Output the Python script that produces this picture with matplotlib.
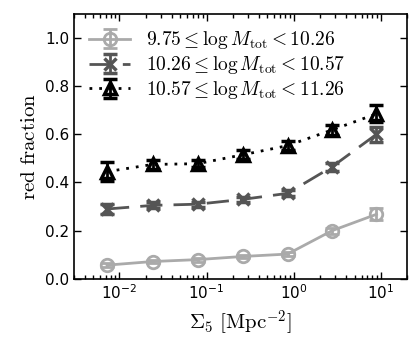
import matplotlib
matplotlib.use('Agg')
import matplotlib.pyplot as plt

plt.rcParams['mathtext.fontset'] = 'cm'
plt.rcParams['xtick.direction'] = 'in'
plt.rcParams['ytick.direction'] = 'in'
plt.rcParams['xtick.top'] = True
plt.rcParams['ytick.right'] = True

sigma5 = [0.0072, 0.024, 0.079, 0.26, 0.85, 2.75, 8.9]

low_frac = [0.057, 0.072, 0.080, 0.093, 0.103, 0.200, 0.268]
low_err = [0.008, 0.008, 0.008, 0.008, 0.010, 0.012, 0.025]
mid_frac = [0.290, 0.305, 0.310, 0.330, 0.355, 0.465, 0.600]
mid_err = [0.020, 0.012, 0.010, 0.010, 0.012, 0.018, 0.030]
high_frac = [0.445, 0.475, 0.478, 0.515, 0.553, 0.618, 0.685]
high_err = [0.040, 0.020, 0.015, 0.018, 0.018, 0.020, 0.035]

labels = [r'$9.75 \leq \log M_{\rm tot} < 10.26$',
          r'$10.26 \leq \log M_{\rm tot} < 10.57$',
          r'$10.57 \leq \log M_{\rm tot} < 11.26$']

fig = plt.figure(figsize=(4.15, 3.46), dpi=100)
ax = fig.add_axes([0.178, 0.194, 0.803, 0.766])

ax.errorbar(sigma5, low_frac, yerr=low_err, color='#aaaaaa', ls='-', lw=2,
            marker='o', ms=9, mfc='none', mew=2, capsize=5, elinewidth=2,
            capthick=2, label=labels[0])
ax.errorbar(sigma5, mid_frac, yerr=mid_err, color='#555555', ls=(0, (8, 4)), lw=2,
            marker='x', ms=8, mew=2.5, capsize=5, elinewidth=2,
            capthick=2, label=labels[1])
ax.errorbar(sigma5, high_frac, yerr=high_err, color='black', ls=(0, (1, 2.5)), lw=2,
            marker='^', ms=8, mfc='none', mew=2.5, capsize=5, elinewidth=2,
            capthick=2, label=labels[2])

ax.set_xscale('log')
ax.set_xlim(0.003, 20)
ax.set_ylim(0, 1.1)
ax.set_yticks([0.0, 0.2, 0.4, 0.6, 0.8, 1.0])
ax.tick_params(labelsize=11, length=5, width=1)
ax.tick_params(which='minor', length=3, width=1)
for s in ax.spines.values():
    s.set_linewidth(1.2)

ax.set_xlabel(r'$\Sigma_5\ [\mathrm{Mpc}^{-2}]$', fontsize=15)
ax.set_ylabel(r'$\mathrm{red\ fraction}$', fontsize=15)

ax.legend(loc='upper left', frameon=False, fontsize=14, numpoints=1,
          handlelength=2.1, labelspacing=0.15, borderpad=0.3, handletextpad=0.8,
          borderaxespad=0.5)

fig.savefig('out.png', dpi=100)
